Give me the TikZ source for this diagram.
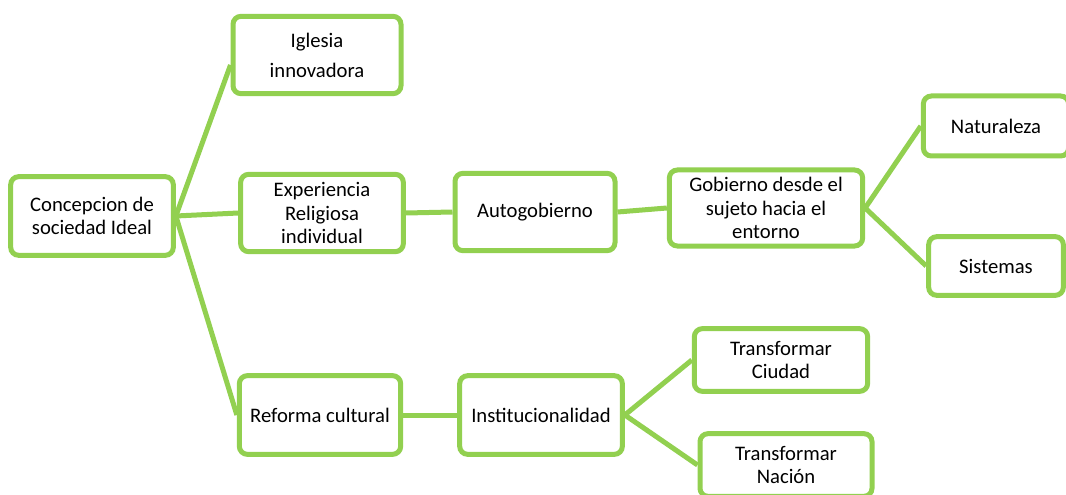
\documentclass[tikz,border=0pt]{standalone}
\usepackage{fontspec}
\setmainfont{Carlito}
\usetikzlibrary{positioning}
\definecolor{lgreen}{HTML}{92D050}
\tikzset{box/.style = {draw = lgreen, line width = 3.75pt, rounded corners = 6pt, fill = white,
    align = center, inner sep = 2pt, font = \fontsize{15.5}{17.5}\selectfont}}
\tikzset{link/.style = {draw = lgreen, line width = 3.75pt}}

\begin{document}
\begin{tikzpicture}[x = 0.75pt, y = -0.75pt]
          \useasboundingbox (0, 0) rectangle (1066, 495);

          \node [box, minimum width = 122pt, minimum height = 59pt] (concep) at (92, 216) {Concepcion de\\sociedad Ideal};
          \node [box, minimum width = 126pt, minimum height = 58pt] (iglesia) at (317, 55) {Iglesia\\[5pt]innovadora};
          \node [box, minimum width = 122pt, minimum height = 58pt] (experiencia) at (322, 213) {Experiencia\\Religiosa\\individual};
          \node [box, minimum width = 120pt, minimum height = 58pt] (autogob) at (535, 212) {Autogobierno};
          \node [box, minimum width = 145pt, minimum height = 57pt] (gobierno) at (766, 208) {Gobierno desde el\\sujeto hacia el\\entorno};
          \node [box, minimum width = 109pt, minimum height = 45pt] (natur) at (996, 126) {Naturaleza};
          \node [box, minimum width = 101pt, minimum height = 44pt] (sistemas) at (996, 266) {Sistemas};
          \node [box, minimum width = 121pt, minimum height = 59pt] (reforma) at (320, 415) {Reforma cultural};
          \node [box, minimum width = 122pt, minimum height = 59pt] (instit) at (541, 415) {Institucionalidad};
          \node [box, minimum width = 130pt, minimum height = 47pt] (ciudad) at (781, 360) {Transformar\\Ciudad};
          \node [box, minimum width = 129pt, minimum height = 47pt] (nacion) at (786, 465) {Transformar\\Nación};

          \draw [link] (concep.east) -- ([yshift = -7.5pt]iglesia.west);
          \draw [link] (concep.east) -- (experiencia.west);
          \draw [link] (concep.east) -- (reforma.west);
          \draw [link] (experiencia.east) -- (autogob.west);
          \draw [link] (autogob.east) -- (gobierno.west);
          \draw [link] (gobierno.east) -- (natur.west);
          \draw [link] (gobierno.east) -- (sistemas.west);
          \draw [link] (reforma.east) -- (instit.west);
          \draw [link] (instit.east) -- (ciudad.west);
          \draw [link] (instit.east) -- (nacion.west);
        \end{tikzpicture}
\end{document}
